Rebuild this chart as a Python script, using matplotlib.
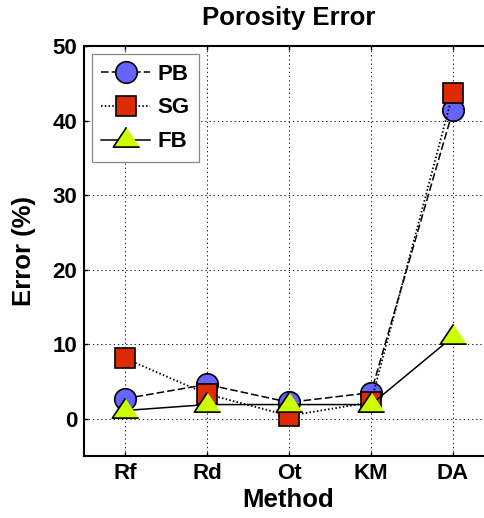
import matplotlib
matplotlib.use("Agg")
import matplotlib.pyplot as plt
import numpy as np

methods = ["Rf", "Rd", "Ot", "KM", "DA"]
pb_err = [2.7, 4.6, 2.2, 3.5, 41.4]
sg_err = [8.1, 3.3, 0.4, 2.2, 43.7]
fb_err = [1.1, 1.9, 1.9, 1.9, 11.0]
series_names = ["PB", "SG", "FB"]
y_ticks = [0, 10, 20, 30, 40, 50]

plt.rcParams['font.family'] = ['Liberation Sans', 'DejaVu Sans']
plt.rcParams['font.weight'] = 'bold'
plt.rcParams['lines.scale_dashes'] = False

W, H = 485, 518
fig = plt.figure(figsize=(W / 100, H / 100), dpi=100)
ax = fig.add_axes([84 / W, (H - 456) / H, 410 / W, 410 / H])

x = np.arange(1, len(methods) + 1)
tri = [(0, 1), (-1, -0.5), (1, -0.5)]

ax.plot(x, pb_err, color='black', lw=1.1, linestyle=(0, (5.5, 2.2)),
        marker='o', markersize=15.5, markerfacecolor='#6464FF',
        markeredgecolor='black', markeredgewidth=1.2, label=series_names[0])
ax.plot(x, sg_err, color='black', lw=1.3, linestyle=(0, (1.1, 1.6)),
        marker='s', markersize=14, markerfacecolor='#DD2A00',
        markeredgecolor='black', markeredgewidth=1.2, label=series_names[1])
ax.plot(x, fb_err, color='black', lw=1.1, linestyle='-',
        marker=tri, markersize=19, markerfacecolor='#CCFF00',
        markeredgecolor='black', markeredgewidth=1.2, label=series_names[2])

ax.set_xlim(0.5, 5.5)
ax.set_ylim(-5, 50)
ax.set_xticks(x)
ax.set_xticklabels(methods)
ax.set_yticks(y_ticks)
ax.tick_params(direction='in', length=3, width=1.0, top=True, right=True,
               labelsize=16, pad=5)
for lab in ax.get_xticklabels() + ax.get_yticklabels():
    lab.set_fontweight('bold')

ax.grid(True, color='black', linestyle=(0, (1, 2)), linewidth=0.6)
for s in ax.spines.values():
    s.set_linewidth(1.5)

ax.set_title("Porosity Error", fontsize=18.5, fontweight='bold', pad=15)
ax.set_xlabel("Method", fontsize=18.5, fontweight='bold')
ax.set_ylabel("Error (%)", fontsize=18.5, fontweight='bold')
ax.xaxis.set_label_coords(0.497, -0.078)
ax.yaxis.set_label_coords(-0.117, 0.5)

leg = ax.legend(loc='upper left', bbox_to_anchor=(0.0195, 0.98),
                borderaxespad=0, fancybox=False,
                edgecolor='#888888', framealpha=1, handlelength=2.2,
                handletextpad=0.32, borderpad=0.42, labelspacing=0.58,
                prop={'weight': 'bold', 'size': 16})
leg.get_frame().set_linewidth(0.9)

fig.savefig("out.png", dpi=100)
